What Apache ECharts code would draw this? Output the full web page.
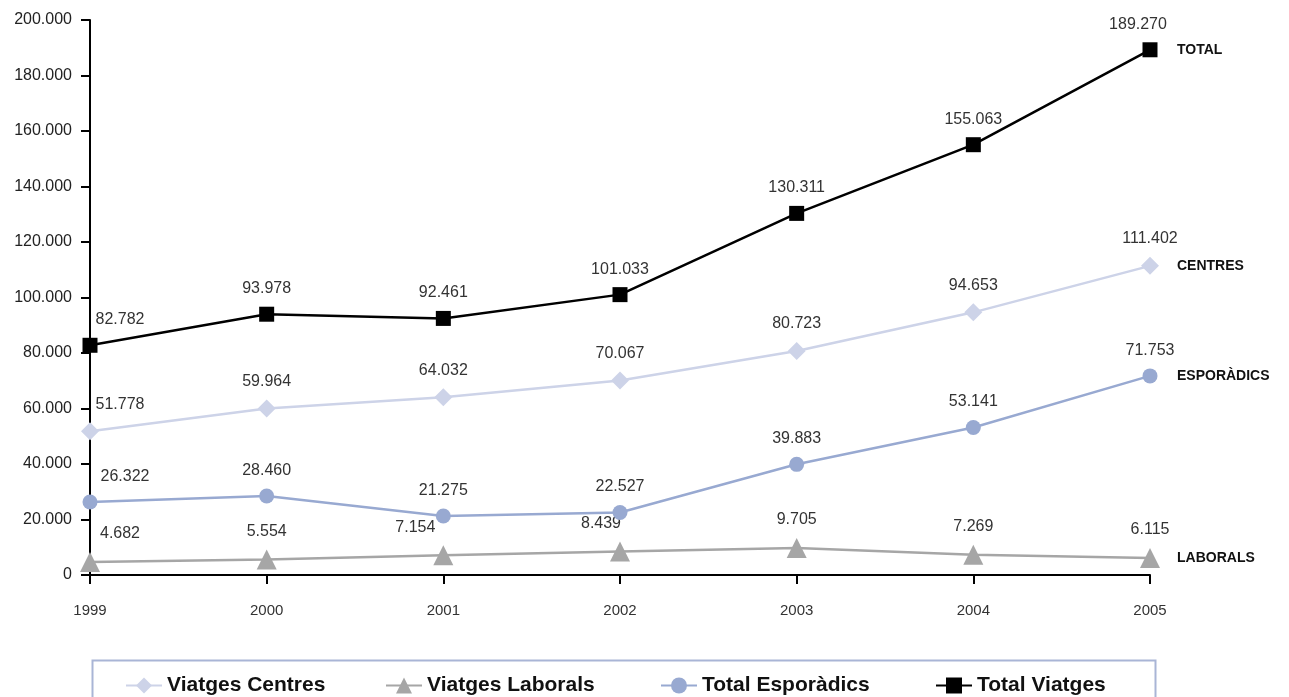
<!DOCTYPE html>
<html>
<head>
<meta charset="utf-8">
<script src="https://cdn.jsdelivr.net/npm/echarts@6/dist/echarts.min.js"></script>
<style>html,body{margin:0;padding:0;background:#fff;}#c{width:1289px;height:697px;}</style>
</head>
<body>
<div id="c"></div>
<script>
const years = ['1999','2000','2001','2002','2003','2004','2005'];
const centres = [51778, 59964, 64032, 70067, 80723, 94653, 111402];
const laborals = [4682, 5554, 7154, 8439, 9705, 7269, 6115];
const esporadics = [26322, 28460, 21275, 22527, 39883, 53141, 71753];
const total = [82782, 93978, 92461, 101033, 130311, 155063, 189270];
const yTicks = [0, 20000, 40000, 60000, 80000, 100000, 120000, 140000, 160000, 180000, 200000];

const seriesNames = ['Viatges Centres', 'Viatges Laborals', 'Total Esporàdics', 'Total Viatges'];
const endNames = ['CENTRES', 'LABORALS', 'ESPORÀDICS', 'TOTAL'];
const colors = ['#cdd3e8', '#a6a6a6', '#98a9d1', '#000000'];
const symbols = ['diamond', 'triangle', 'circle', 'rect'];
const symbolSizes = [18, 20, 15, 15];
const labelOffsets = [
  [[30, 0], [0,0], [0,0], [0,0], [0,0], [0,0], [0,0]],
  [[30, 0], [0,0], [-28,0], [-19,0], [0,0], [0,0], [0,0]],
  [[35, 0], [0,0], [0,0], [0,0], [0,0], [0,0], [0,0]],
  [[30, 0], [0,0], [0,0], [0,0], [0,0], [0,0], [-12,0]]
];
const allData = [centres, laborals, esporadics, total];

function fmt(v) {
  return String(v).replace(/\B(?=(\d{3})+(?!\d))/g, '.');
}

const series = allData.map((arr, i) => ({
  name: seriesNames[i],
  type: 'line',
  data: arr.map((v, j) => ({
    value: v,
    label: { offset: labelOffsets[i][j] }
  })),
  symbol: symbols[i],
  symbolSize: symbolSizes[i],
  showAllSymbol: true,
  z: 2 + i,
  lineStyle: { color: colors[i], width: 2.5 },
  itemStyle: { color: colors[i] },
  label: {
    show: true,
    position: 'top',
    distance: 10,
    color: '#333',
    fontSize: 16,
    fontFamily: 'Liberation Sans, Arial, sans-serif',
    formatter: p => fmt(p.value)
  },
  endLabel: {
    show: true,
    formatter: endNames[i],
    color: '#111',
    fontWeight: 'bold',
    fontSize: 14,
    fontFamily: 'Liberation Sans, Arial, sans-serif',
    distance: 27
  },
  emphasis: { disabled: true },
  animation: false
}));

const legendLefts = [120, 380, 655, 930];
const legends = seriesNames.map((n, i) => ({
  data: [n],
  left: legendLefts[i],
  top: 670,
  itemWidth: 36,
  itemHeight: 20,
  itemGap: 8,
  selectedMode: false,
  textStyle: { fontSize: 21, fontWeight: 'bold', color: '#111', fontFamily: 'Liberation Sans, Arial, sans-serif' }
}));

const chart = echarts.init(document.getElementById('c'), null, { renderer: 'canvas' });
chart.setOption({
  animation: false,
  backgroundColor: '#fff',
  grid: { left: 90, right: 139, top: 20, bottom: 122, containLabel: false },
  legend: legends,
  xAxis: {
    type: 'category',
    data: years,
    boundaryGap: false,
    axisLine: { lineStyle: { color: '#000', width: 2 } },
    axisTick: { show: true, length: 9, lineStyle: { color: '#000', width: 2 } },
    axisLabel: { color: '#333', fontSize: 15, margin: 28, fontFamily: 'Liberation Sans, Arial, sans-serif' },
    splitLine: { show: false }
  },
  yAxis: {
    type: 'value',
    min: yTicks[0],
    max: yTicks[yTicks.length - 1],
    interval: yTicks[1] - yTicks[0],
    axisLine: { show: true, lineStyle: { color: '#000', width: 2 } },
    axisTick: { show: true, length: 9, lineStyle: { color: '#000', width: 2 } },
    axisLabel: { color: '#222', fontSize: 16, margin: 18, fontFamily: 'Liberation Sans, Arial, sans-serif', formatter: v => fmt(v) },
    splitLine: { show: false }
  },
  graphic: [{
    type: 'rect',
    left: 90,
    top: 658,
    shape: { width: 1063, height: 60 },
    style: { fill: 'none', stroke: '#a9b5d6', lineWidth: 2 },
    silent: true,
    z: -1
  }],
  series: series
});
</script>
</body>
</html>
